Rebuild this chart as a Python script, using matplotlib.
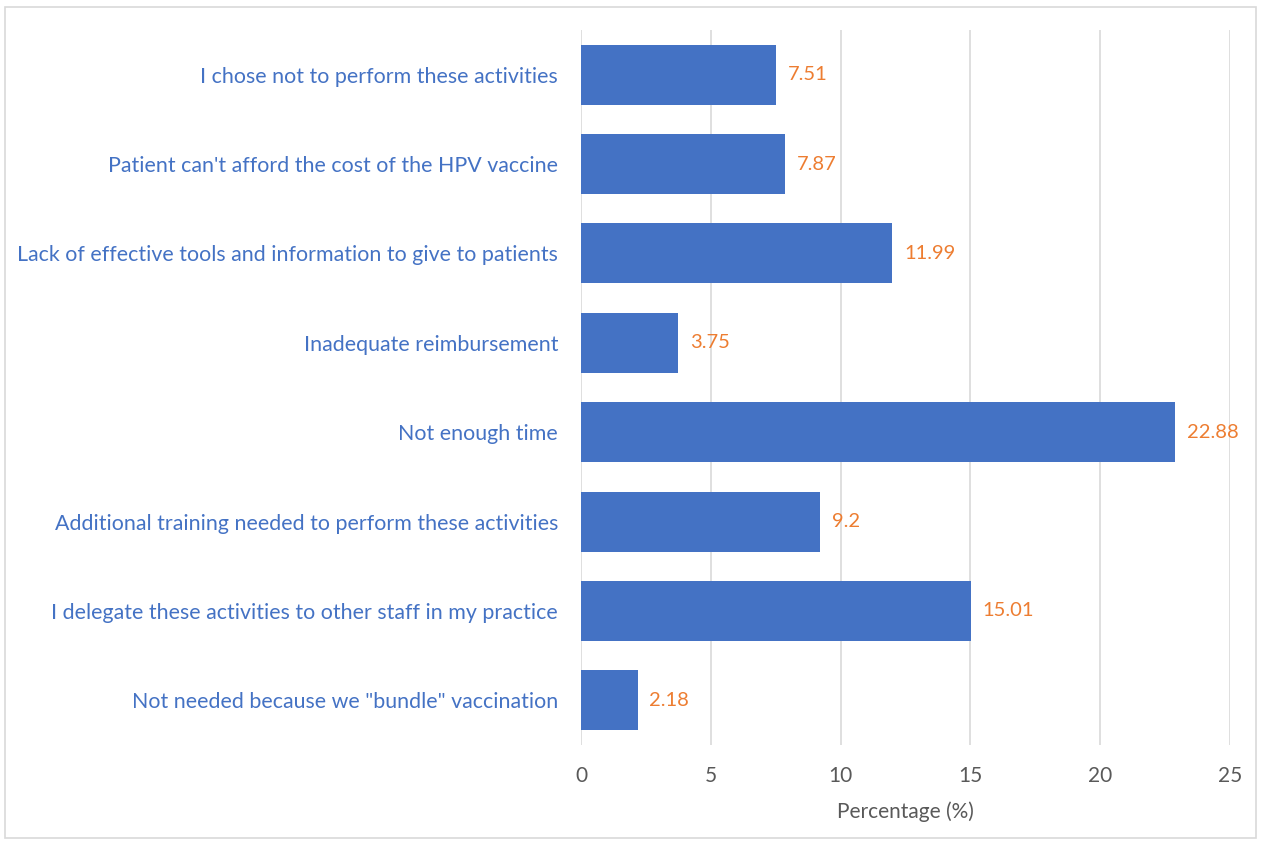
import matplotlib.pyplot as plt
from matplotlib.patches import Rectangle

categories = [
    "I chose not to perform these activities",
    "Patient can't afford the cost of the HPV vaccine",
    "Lack of effective tools and information to give to patients",
    "Inadequate reimbursement",
    "Not enough time",
    "Additional training needed to perform these activities",
    "I delegate these activities to other staff in my practice",
    'Not needed because we "bundle" vaccination',
]
values = [7.51, 7.87, 11.99, 3.75, 22.88, 9.2, 15.01, 2.18]
value_labels = ["7.51", "7.87", "11.99", "3.75", "22.88", "9.2", "15.01", "2.18"]
xticks = [0, 5, 10, 15, 20, 25]

plt.rcParams['font.family'] = ['Lato', 'DejaVu Sans']

fig = plt.figure(figsize=(12.61, 8.43), dpi=100)
ax = fig.add_axes([581/1261, 1-745/843, (1230-581)/1261, (745-30)/843])

ypos = list(range(len(categories)))
ax.barh(ypos, values, height=0.67, color="#4472C4", zorder=3)
for y, v, lab in zip(ypos, values, value_labels):
    ax.text(v + 0.45, y, lab, va="center", ha="left", color="#ED7D31", fontsize=14.5)

ax.set_ylim(len(categories) - 0.5, -0.5)
ax.set_xlim(0, 25)
ax.set_yticks(ypos)
ax.set_yticklabels(categories, color="#4472C4", fontsize=15.4)
ax.set_xticks(xticks)
ax.set_xticklabels([str(t) for t in xticks], color="#595959", fontsize=15)
ax.tick_params(length=0)
ax.tick_params(axis="y", pad=16.5)
ax.tick_params(axis="x", pad=15)
ax.grid(axis="x", color="#D9D9D9", linewidth=1.2, zorder=0)
for s in ax.spines.values():
    s.set_visible(False)
ax.set_xlabel("Percentage (%)", color="#595959", fontsize=15, labelpad=11)

fig.patches.append(Rectangle((5/1261, 5/843), 1 - 10/1261, 1 - 12/843,
                             transform=fig.transFigure, fill=False,
                             edgecolor="#D9D9D9", linewidth=1.2))

fig.savefig("out.png", dpi=100)
